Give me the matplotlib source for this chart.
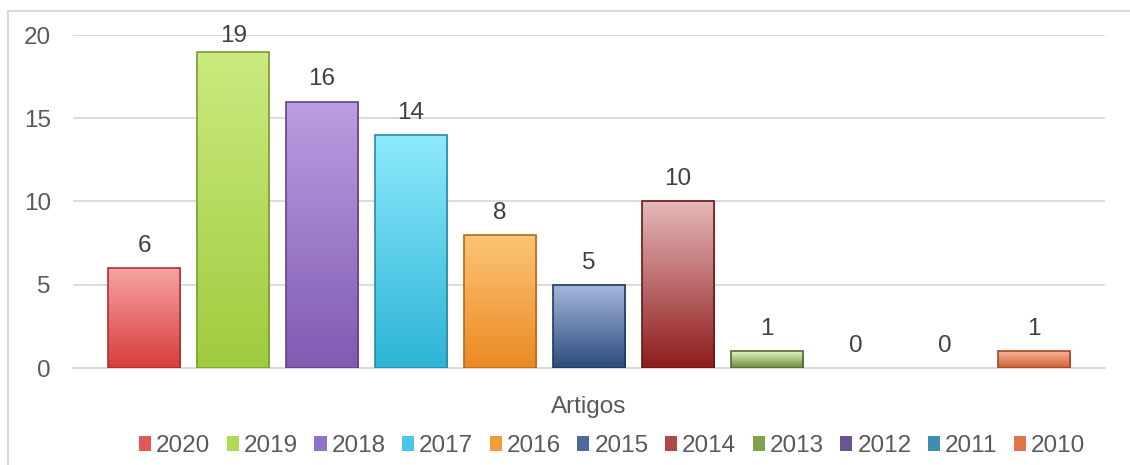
import matplotlib
matplotlib.use("Agg")
import matplotlib.pyplot as plt
import numpy as np
from matplotlib.colors import to_rgb
from matplotlib.patches import Rectangle, Patch

plt.rcParams['font.family'] = ['Liberation Sans', 'DejaVu Sans']

years = ["2020", "2019", "2018", "2017", "2016", "2015", "2014", "2013", "2012", "2011", "2010"]
values = [6, 19, 16, 14, 8, 5, 10, 1, 0, 0, 1]
top_colors = ["#f7a3a3", "#cbea80", "#bb9ee0", "#8eeafc", "#fcc576", "#a5b9dd", "#e6b8b8", "#e4f2c6", "#b3a3c6", "#9cc8dc", "#f9b496"]
bot_colors = ["#d83c3c", "#9fcc3e", "#7f5bb2", "#2cb4d6", "#ea8a22", "#2d4b7c", "#8e1c1c", "#6c8c3a", "#4f3d6e", "#2a7a9a", "#cf5f30"]
edge_colors = ["#a83232", "#7c9a35", "#5f4585", "#2a8aa3", "#b56b1c", "#22385e", "#6c1616", "#53692e", "#3b2e52", "#205c74", "#9c4824"]
legend_colors = ["#e35757", "#addb55", "#9271c8", "#48c6e6", "#f29d3d", "#4e6a9c", "#b04848", "#7fa34a", "#6a5590", "#3d8fb0", "#e0744a"]

FS = 17.5

fig = plt.figure(figsize=(11.3, 4.65), dpi=100)
ax = fig.add_axes([73/1130, 1-368/465, (1105-73)/1130, (368-35)/465])

width = 0.81
x = np.arange(len(values))
bars = ax.bar(x, values, width=width, color='none', edgecolor='none', zorder=3)
for i, (b, v) in enumerate(zip(bars, values)):
    if v > 0:
        t = np.array(to_rgb(top_colors[i]))
        bc = np.array(to_rgb(bot_colors[i]))
        n = 200
        f = np.linspace(0, 1, n)[:, None]
        grad = t[None, :] * (1 - f) + bc[None, :] * f
        img = np.repeat(grad[:, None, :], 2, axis=1)
        im = ax.imshow(img, extent=[b.get_x(), b.get_x() + width, 0, v],
                       aspect='auto', zorder=3, interpolation='bilinear')
        im.set_clip_path(b)
        ax.add_patch(Rectangle((b.get_x(), 0), width, v, facecolor='none',
                               edgecolor=edge_colors[i], linewidth=1.2, zorder=4))
    ax.text(x[i], min(v + 0.97, 19.58), str(v), ha='center', va='baseline',
            fontsize=FS, color='#404040', zorder=5, clip_on=False)

ax.set_xlim(-0.80, 10.80)
ax.set_ylim(0, 20)
ax.set_yticks([0, 5, 10, 15, 20])
ax.set_xticks([])
ax.grid(axis='y', color='#d9d9d9', linewidth=1.3, zorder=0)
ax.set_axisbelow(True)
for s in ['top', 'right', 'left']:
    ax.spines[s].set_visible(False)
ax.spines['bottom'].set_color('#d9d9d9')
ax.spines['bottom'].set_linewidth(1.3)
ax.tick_params(axis='y', length=0, labelsize=FS, labelcolor='#595959', pad=16)
ax.set_xlabel("Artigos", fontsize=FS, color='#595959', labelpad=20)

handles = [Patch(facecolor=c, edgecolor='none') for c in legend_colors]
fig.legend(handles, years, loc='center', bbox_to_anchor=(612/1130, 1-446/465), ncol=11,
           frameon=False, fontsize=FS, handlelength=0.5, handleheight=0.55,
           handletextpad=0.2, columnspacing=0.68, labelcolor='#595959')

fig.patches.append(Rectangle((8/1130, -0.1), 1.2, 1-11/465+0.1, transform=fig.transFigure,
                             facecolor='none', edgecolor='#d9d9d9', linewidth=1.5))

fig.savefig("out.png", dpi=100)
